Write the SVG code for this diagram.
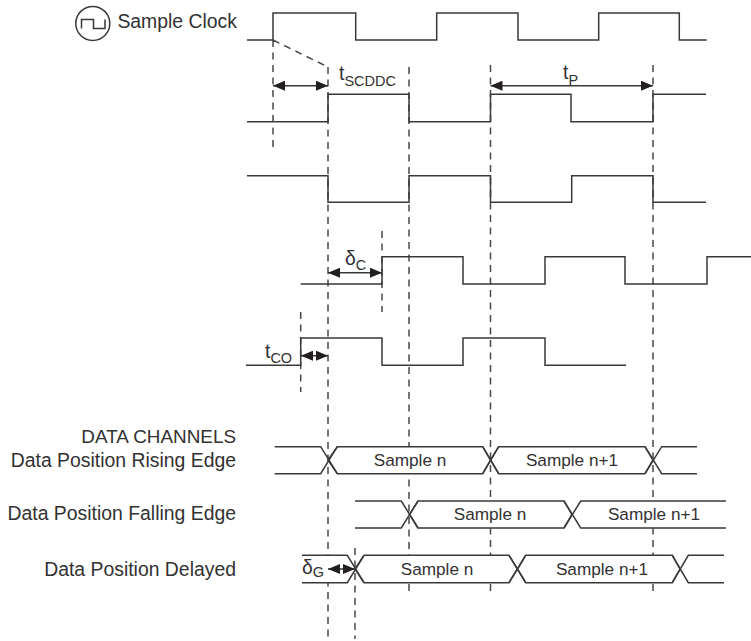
<svg xmlns="http://www.w3.org/2000/svg" width="751" height="641" viewBox="0 0 751 641">
<style>
text{font-family:"Liberation Sans",Arial,sans-serif;fill:#333132;font-size:19.4px}
.r{text-anchor:end}
.s{font-size:17.2px;text-anchor:middle}
.b{font-size:14.5px}
.w{fill:none;stroke:#3a3839;stroke-width:1.5}
.x{fill:#fff;stroke:#3a3839;stroke-width:1.5}
.d{fill:none;stroke:#4a4849;stroke-width:1.5;stroke-dasharray:7 5.5}
.a{stroke:#3a3839;stroke-width:1.5;fill:none;marker-start:url(#h);marker-end:url(#h)}
</style>
<defs>
<marker id="h" viewBox="0 0 12 10" refX="12" refY="5" markerUnits="userSpaceOnUse" markerWidth="12" markerHeight="10" orient="auto-start-reverse"><path d="M0 0L12 5L0 10Z" fill="#231f20"/></marker>
</defs>
<g id="connectors">
<path class="d" d="M273 40V149M273 40L328 67M328 67V638M409 67V570M490.5 65V570M653 65V570M382 231V312M300.7 312V392M355 548V639M409 584V591M490.5 584V591M653 584V591"/>
<path class="a" d="M273 85.7H328"/>
<path class="a" d="M490.5 85.7H653"/>
<path class="a" d="M328 272.7H382"/>
<path class="a" d="M301 355.7H328"/>
</g>
<g id="clock-icon"><circle cx="92.8" cy="23.4" r="17" fill="#fff" stroke="#3a3839" stroke-width="1.5"/><path class="w" d="M81.5 28.4V19.5H93.5V28.4H105V19.5"/></g>
<g id="sample-clock"><text class="r" x="237" y="28">Sample Clock</text><path class="w" d="M247 40H273V13H355.7V40H436.7V13H518V40H598.7V13H679.3V40H706.7"/></g>
<g id="signal-2"><path class="w" d="M247 121.7H328V94.3H409V121.7H490.5V94.3H571V121.7H653V94.3H706"/></g>
<g id="signal-3"><path class="w" d="M247 175.7H328V202.3H409V175.7H490.5V202.3H571.7V175.7H653V202.3H706"/></g>
<g id="signal-4"><path class="w" d="M300.7 284H382V256.7H463V284H545V256.7H625V284H707V256.7H751"/></g>
<g id="signal-5"><path class="w" d="M246 365.3H300.7V338H382V365.3H463V338H545V365.3H626"/></g>
<g id="t-scddc"><text x="339" y="80">t<tspan class="b" dy="6">SCDDC</tspan></text></g>
<g id="t-p"><text x="563" y="79">t<tspan class="b" dy="6">P</tspan></text></g>
<g id="delta-c"><text x="345" y="265">δ<tspan class="b" dy="5">C</tspan></text></g>
<g id="t-co"><text x="265" y="358">t<tspan class="b" dy="5">CO</tspan></text></g>
<g id="labels">
<text class="r" x="236" y="443" style="font-size:18.9px">DATA CHANNELS</text>
<text class="r" x="236" y="466.7">Data Position Rising Edge</text>
<text class="r" x="236" y="520">Data Position Falling Edge</text>
<text class="r" x="236" y="575.7">Data Position Delayed</text>
</g>
<g id="data-rising">
<path class="x" d="M337.3 446.7H482.7L490.5 460L482.7 473.7H337.3L328 460Z"/>
<path class="x" d="M498.7 446.7H645L653 460L645 473.7H498.7L490.5 460Z"/>
<path class="w" d="M274.7 446.7H320.7L337.3 473.7M274.7 473.7H320.7L337.3 446.7M482.7 446.7L498.7 473.7M482.7 473.7L498.7 446.7M645 446.7L661.7 473.7H697M645 473.7L661.7 446.7H697"/>
<text class="s" x="410" y="466">Sample n</text>
<text class="s" x="572" y="466">Sample n+1</text>
</g>
<g id="data-falling">
<path fill="#fff" d="M355 501H401.3L409.5 514.5L401.3 528H355Z"/>
<path class="x" d="M418 501H564L572 514.5L564 528H418L409.5 514.5Z"/>
<path fill="#fff" d="M580.7 501H726V528H580.7L572 514.5Z"/>
<path class="w" d="M355 501H401.3L418 528M355 528H401.3L418 501M564 501L580.7 528H726M564 528L580.7 501H726"/>
<text class="s" x="490" y="520">Sample n</text>
<text class="s" x="654" y="520">Sample n+1</text>
</g>
<g id="data-delayed">
<path d="M302 555.3H347.3L355 569L347.3 582.7H302Z" fill="#fff"/>
<path class="x" d="M364 555.3H509L517.5 569L509 582.7H364L355 569Z"/>
<path class="x" d="M525.7 555.3H672.3L680 569L672.3 582.7H525.7L517.5 569Z"/>
<path class="w" d="M302 555.3H347.3L364 582.7M302 582.7H347.3L364 555.3M509 555.3L525.7 582.7M509 582.7L525.7 555.3M672.3 555.3L688.3 582.7H724M672.3 582.7L688.3 555.3H724"/>
<text class="s" x="437" y="575">Sample n</text>
<text class="s" x="602" y="575">Sample n+1</text>
<text x="302" y="574">δ<tspan class="b" dy="3">G</tspan></text>
<path class="a" d="M328 569H355"/>
</g>
</svg>
